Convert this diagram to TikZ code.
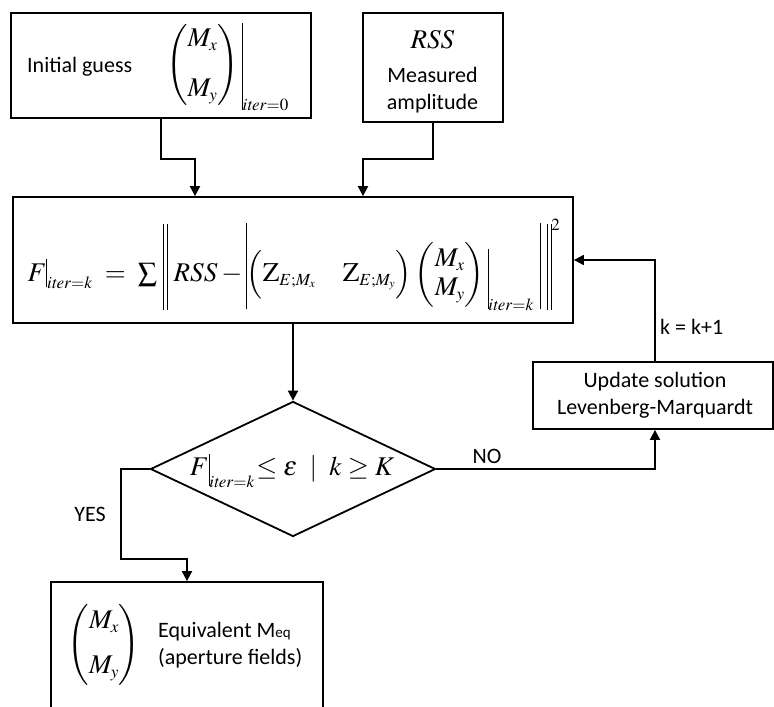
\documentclass[tikz,border=0pt]{standalone}
\usepackage{amsmath}
\usepackage{mathptmx}
\usepackage[no-math]{fontspec}
\setmainfont{Carlito}
\usetikzlibrary{shapes.geometric,arrows.meta}
\DeclareMathSizes{27}{27}{17}{12}
\newcommand{\vbarr}[2]{\mathord{\rule[-#2]{0.8pt}{#1}}}
\newcommand{\dbarr}[2]{\mathord{\rule[-#2]{0.8pt}{#1}\kern3pt\rule[-#2]{0.8pt}{#1}}}
\tikzset{
  box/.style={draw,line width=1.8pt,inner sep=0pt,rectangle},
  conn/.style={line width=1.8pt},
  arr/.style={conn,-{Triangle[length=10pt,width=10pt]}},
  txt/.style={font=\fontsize{22}{27}\selectfont,inner sep=0pt},
  mth/.style={font=\fontsize{27}{32}\selectfont,inner sep=0pt},
}
\begin{document}
\begin{tikzpicture}[x=1pt,y=-1pt]
\useasboundingbox (0,0) rectangle (774,707);
\clip (0,0) rectangle (774,707);
% boxes
\node[box,minimum width=300pt,minimum height=105pt] (init) at (161,65.5) {};
\node[box,minimum width=140pt,minimum height=109pt] (rss) at (433,67.5) {};
\node[box,minimum width=560pt,minimum height=126pt] (fbox) at (293,260) {};
\node[box,minimum width=240pt,minimum height=67pt] (upd) at (653,395.5) {};
\node[draw,line width=1.8pt,diamond,inner sep=0pt,minimum width=285pt,minimum height=135pt] (dia) at (293,469) {};
\node[box,minimum width=272pt,minimum height=160pt] (res) at (187,662) {};
% contents
\node[txt,anchor=west] (t1) at (27,67) {Initial guess};
\node[mth,anchor=west] (m1) at (166,67) {$\displaystyle\begin{pmatrix}M_{x}\\[18pt] M_{y}\end{pmatrix}\vbarr{87pt}{38pt}_{\mathit{iter}=0}$};
\node[mth] (m2) at (432.5,40) {$RSS$};
\node[txt,align=center] (t2) at (432.5,90) {Measured\\amplitude};
\node[mth] (m3) at (294,265) {$\displaystyle F\vbarr{28pt}{6pt}_{\mathit{iter}=k}\;=\;\textstyle\sum\,\dbarr{86pt}{29pt}\;RSS-\vbarr{86pt}{28pt}\Bigl(\mathrm{Z}_{E;M_x}\quad\mathrm{Z}_{E;M_y}\Bigr)\begin{pmatrix}M_x\\[-3pt] M_y\end{pmatrix}\vbarr{60pt}{28pt}_{\mathit{iter}=k}\;\vbarr{86pt}{28pt}\;\dbarr{86pt}{29pt}^{2}$};
\node[mth] (m4) at (292,471) {$F\vbarr{32pt}{11pt}_{\mathit{iter}=k}\mkern-3mu\leq\varepsilon\ \ |\ \ k\geq K$};
\node[txt,align=center] (t3) at (655,395) {Update solution\\Levenberg-Marquardt};
\node[mth] (m5) at (104,645) {$\begin{pmatrix}M_x\\[13pt] M_y\end{pmatrix}$};
\node[txt,align=left,anchor=west] (t4) at (158,645) {Equivalent M{\fontsize{15}{16}\selectfont eq}\\(aperture fields)};
% connectors
\draw[arr] (init.south) -- ++(0,40) -| ([xshift=-98pt]fbox.north);
\draw[arr] (rss.south) -- ++(0,36) -| ([xshift=70pt]fbox.north);
\draw[arr] (fbox.south) -- (dia.north);
\draw[arr] (dia.west) -- ++(-29,0) -- ++(0,90) -| (res.north);
\draw[arr] (dia.east) -| ([xshift=2pt]upd.south);
\draw[arr] ([xshift=2pt]upd.north) |- (fbox.east);
% labels
\node[txt,anchor=west] (l1) at (660,327) {k = k+1};
\node[txt] (l2) at (487,456) {NO};
\node[txt] (l3) at (90,514) {YES};
\end{tikzpicture}
\end{document}
